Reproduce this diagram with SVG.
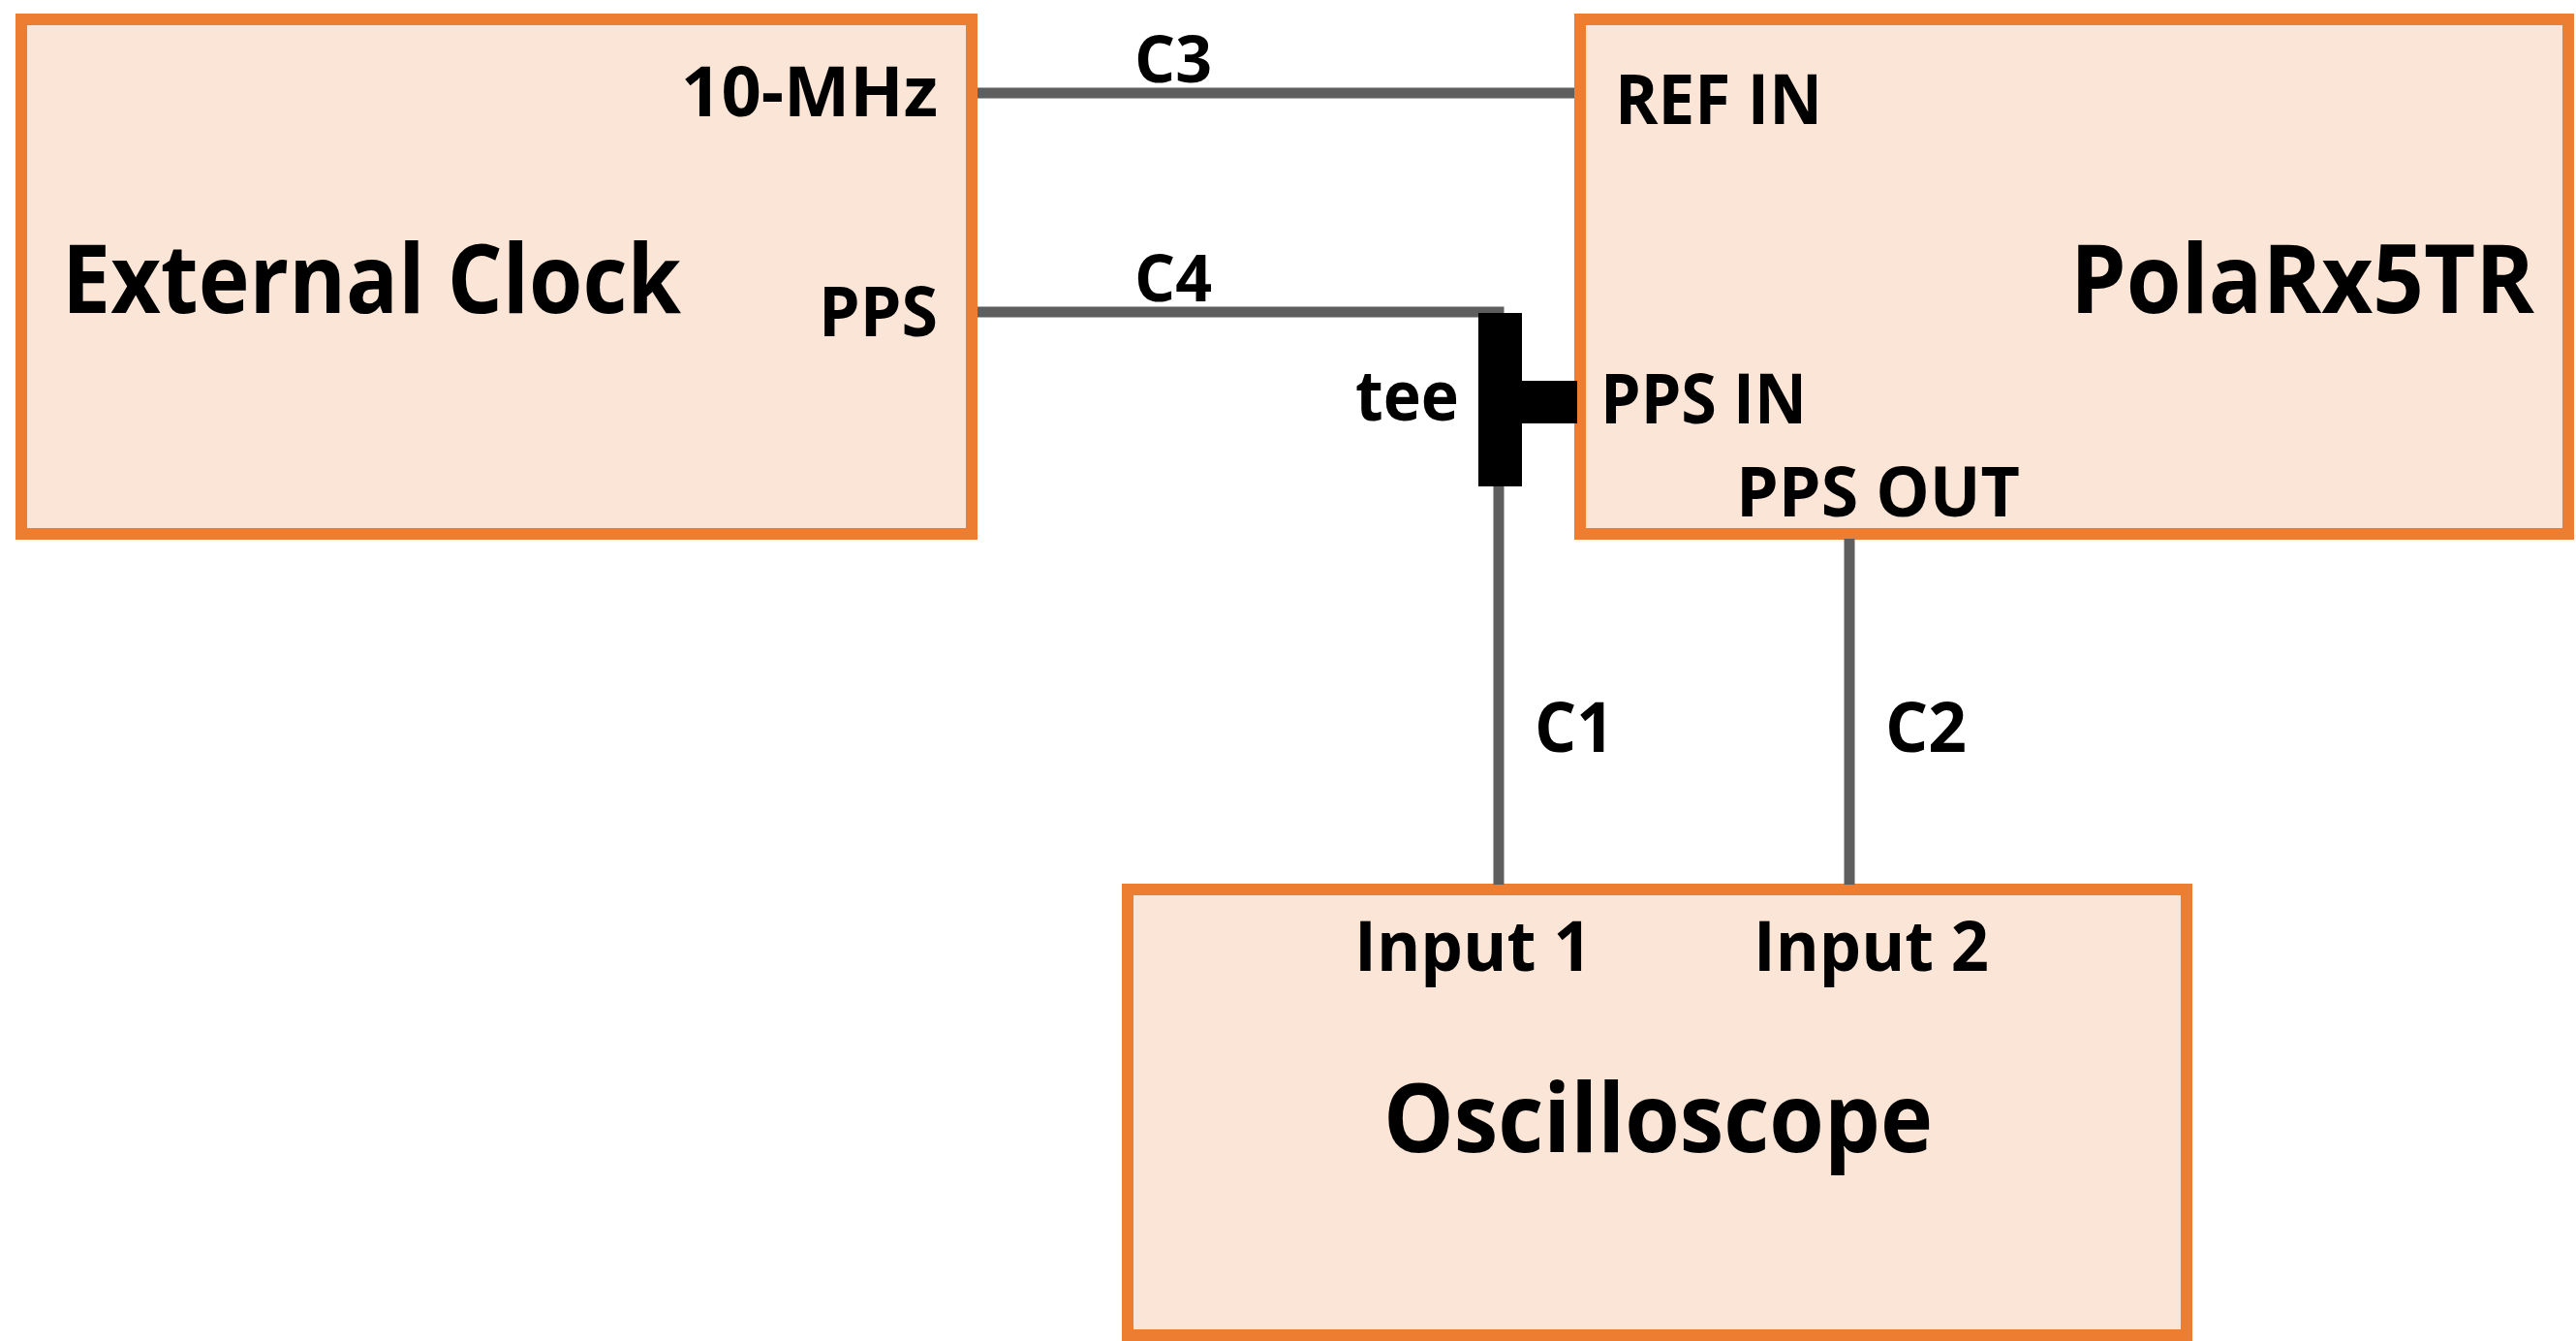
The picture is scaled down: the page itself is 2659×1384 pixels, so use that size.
<svg xmlns="http://www.w3.org/2000/svg" width="2659" height="1384" viewBox="0 0 2659 1384">
<style>
.box{fill:#FBE5D6;stroke:#ED7D31;stroke-width:12}
.t{font-family:"Open Sans","Liberation Sans",sans-serif;font-weight:bold;fill:#000}
.big{font-size:98px}
.sm{font-size:72px}
.cl{font-size:66px}
.wire{stroke:#5e5e5e;stroke-width:11;fill:none}
.tee{fill:#000}
</style>
<rect width="2659" height="1384" fill="#fff"/>
<g id="external-clock">
<rect class="box" x="22" y="20" width="981" height="531"/>
<text class="t big" x="64" y="323" textLength="639" lengthAdjust="spacingAndGlyphs">External Clock</text>
<text class="t sm" x="703" y="120" textLength="265" lengthAdjust="spacingAndGlyphs">10-MHz</text>
<text class="t sm" x="845" y="347" textLength="123" lengthAdjust="spacingAndGlyphs">PPS</text>
</g>
<g id="polarx5tr">
<rect class="box" x="1631" y="20" width="1020" height="531"/>
<text class="t big" x="2137" y="323" textLength="479" lengthAdjust="spacingAndGlyphs">PolaRx5TR</text>
<text class="t sm" x="1667" y="128" textLength="214" lengthAdjust="spacingAndGlyphs">REF IN</text>
<text class="t sm" x="1652" y="437" textLength="213" lengthAdjust="spacingAndGlyphs">PPS IN</text>
<text class="t sm" x="1792" y="533" textLength="293" lengthAdjust="spacingAndGlyphs">PPS OUT</text>
</g>
<g id="oscilloscope">
<rect class="box" x="1164" y="918" width="1093" height="460"/>
<text class="t big" x="1428" y="1189" textLength="567" lengthAdjust="spacingAndGlyphs">Oscilloscope</text>
<text class="t sm" x="1398" y="1002" textLength="245" lengthAdjust="spacingAndGlyphs">Input 1</text>
<text class="t sm" x="1810" y="1002" textLength="243" lengthAdjust="spacingAndGlyphs">Input 2</text>
</g>
<g id="connectors">
<line class="wire" id="c3" x1="1009" y1="96" x2="1625" y2="96"/>
<polyline class="wire" id="c4" points="1009,322 1547,322 1547,330"/>
<line class="wire" id="c1" x1="1547" y1="500" x2="1547" y2="913"/>
<line class="wire" id="c2" x1="1909" y1="556" x2="1909" y2="913"/>
<text class="t cl" x="1171" y="85" textLength="80" lengthAdjust="spacingAndGlyphs">C3</text>
<text class="t cl" x="1171" y="311" textLength="80" lengthAdjust="spacingAndGlyphs">C4</text>
<text class="t sm" x="1584" y="776" textLength="82" lengthAdjust="spacingAndGlyphs">C1</text>
<text class="t sm" x="1946" y="776" textLength="84" lengthAdjust="spacingAndGlyphs">C2</text>
</g>
<g id="tee">
<rect class="tee" x="1526" y="323" width="45" height="179"/>
<rect class="tee" x="1570" y="393" width="58" height="44"/>
<text class="t sm" x="1399" y="434" textLength="107" lengthAdjust="spacingAndGlyphs">tee</text>
</g>
</svg>
